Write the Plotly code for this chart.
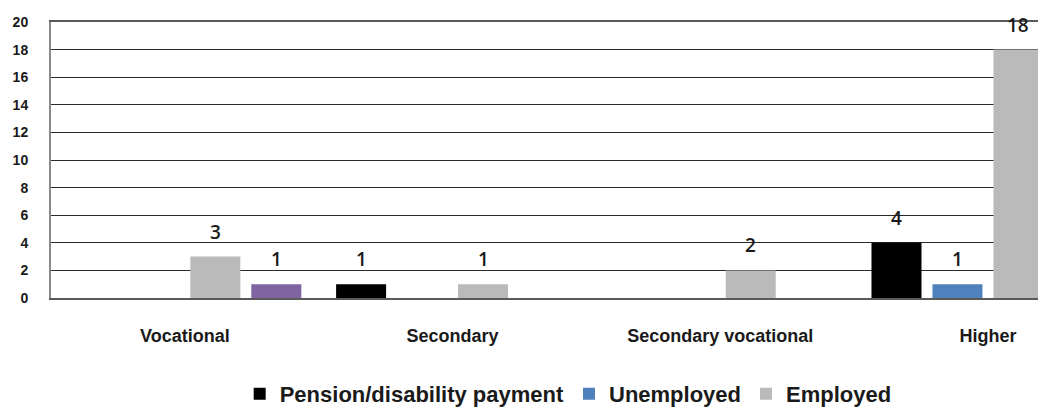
import plotly.graph_objects as go

categories = ["Vocational", "Secondary", "Secondary vocational", "Higher"]
series_names = ["Pension/disability payment", "Unemployed", "Employed", "Other"]
pension = [0, 1, 0, 4]
unemployed = [0, 0, 0, 1]
employed = [3, 1, 2, 18]
other = [1, 0, 0, 0]
series_values = [pension, unemployed, employed, other]
series_colors = ["#000000", "#4f81bd", "#bababa", "#8064a2"]
series_in_legend = [True, True, True, False]
y_ticks = [0, 2, 4, 6, 8, 10, 12, 14, 16, 18, 20]

BARGAP = 0.089
n_series = len(series_values)
slot = (1 - BARGAP) / n_series

fig = go.Figure()
for name, vals, col, show in zip(series_names, series_values, series_colors, series_in_legend):
    fig.add_trace(go.Bar(
        x=categories, y=[v if v else None for v in vals], name=name, showlegend=show,
        marker=dict(color=col, line=dict(width=0)),
    ))

annotations = []
for k, vals in enumerate(series_values):
    for i, v in enumerate(vals):
        if v:
            annotations.append(dict(
                x=i + (k - (n_series - 1) / 2) * slot, y=v, xref="x", yref="y",
                text=str(v), showarrow=False, yanchor="middle", yshift=25,
                font=dict(family="Open Sans", size=19, color="#1a1a1a", weight=600),
            ))

fig.update_layout(
    width=1038, height=408,
    margin=dict(l=51, r=0, t=22, b=110, autoexpand=False),
    barmode="group", bargap=BARGAP, bargroupgap=0.18,
    plot_bgcolor="white", paper_bgcolor="white",
    annotations=annotations,
    legend=dict(
        orientation="h", x=0.524, xanchor="center", y=-0.272, yanchor="top",
        font=dict(family="Liberation Sans", size=22, color="#1a1a1a", weight="bold"),
        itemwidth=30, tracegroupgap=0,
    ),
    xaxis=dict(
        range=[-0.5, 3.187], showgrid=False, showline=True, linecolor="#5a5a5a",
        linewidth=2, mirror=True, ticks="", ticklabelstandoff=20,
        tickfont=dict(family="Liberation Sans", size=18, color="#1a1a1a", weight="bold"),
    ),
    yaxis=dict(
        range=[0, 20], tickvals=y_ticks, showgrid=True, gridcolor="#2a2a2a", gridwidth=1,
        zeroline=False, showline=True, linecolor="#8a8a8a", linewidth=2,
        ticks="", ticklabelstandoff=18,
        tickfont=dict(family="Liberation Sans", size=14, color="#1a1a1a", weight="bold"),
    ),
)

fig.write_html("out.html")
